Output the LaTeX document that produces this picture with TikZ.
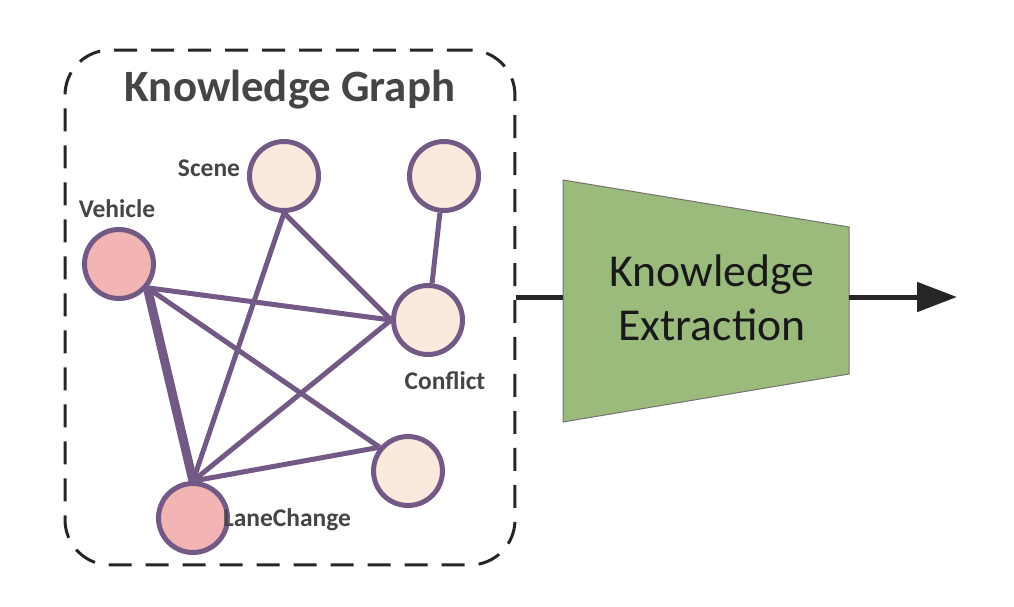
\documentclass[tikz,border=0pt]{standalone}
\usepackage{fontspec}
\setmainfont{Carlito}
\usetikzlibrary{arrows.meta,positioning}

\definecolor{kgpurple}{HTML}{735A86}
\definecolor{kgpeach}{HTML}{FCE9DD}
\definecolor{kgpink}{HTML}{F3B4B4}
\definecolor{kggreen}{HTML}{9BBB7C}
\definecolor{kgtext}{HTML}{454545}

\tikzset{
    ent/.style={circle, draw=kgpurple, line width=0.1cm, fill=kgpeach,
        minimum size=1.38cm, inner sep=0pt},
    rel/.style={draw=kgpurple, line width=0.1cm},
    lbl/.style={font=\fontsize{14.5}{16}\selectfont\bfseries, text=kgtext, inner sep=0pt}
}

\begin{document}
\begin{tikzpicture}[x=0.02cm, y=-0.02cm]
    \useasboundingbox (0,0) rectangle (1014,606);
    % knowledge graph box
    \node[draw=black!85, dashed, dash pattern=on 0.46cm off 0.28cm, line width=0.06cm,
        rounded corners=0.9cm, minimum width=9cm, minimum height=10.3cm] (kg) at (290,307.5) {};
    \node[font=\fontsize{25.5}{30}\selectfont\bfseries, text=kgtext] (title) at (290,90) {Knowledge Graph};

    % entities
    \node[ent] (scene) at (284,176) {};
    \node[ent] (top) at (444,176) {};
    \node[ent, fill=kgpink] (veh) at (119,264) {};
    \node[ent] (conf) at (428,320) {};
    \node[ent] (low) at (408,471) {};
    \node[ent, fill=kgpink] (lc) at (193,518) {};

    % relations
    \draw[rel] (veh.-40) -- (conf.west);
    \draw[rel] (veh.-40) -- (low.140);
    \draw[rel, line width=0.18cm] (veh.-40) -- (lc.north);
    \draw[rel] (scene.south) -- (lc.north);
    \draw[rel] (scene.south) -- (conf.west);
    \draw[rel] (top) -- (conf);
    \draw[rel] (lc.north) -- (conf.west);
    \draw[rel] (lc.north) -- (low.140);

    % labels
    \node[lbl] (scenelbl) at (209,168) {Scene};
    \node[lbl] (vehlbl) at (117,209) {Vehicle};
    \node[lbl] (conflbl) at (445,381) {Conflict};
    \node[lbl] (lclbl) at (287,520) {LaneChange};

    % knowledge extraction
    \draw[fill=kggreen, draw=black!55, line width=0.02cm]
        (563,180) -- (849,227) -- (849,374) -- (563,422) -- cycle;
    \node[font=\fontsize{26}{31}\selectfont, align=center, text=black!90] (ke) at (712,298) {Knowledge\\Extraction};
    \coordinate (kein) at (563,297);
    \coordinate (keout) at (849,297);
    \coordinate (res) at (957,297);
    \draw[line width=0.1cm, black!85] (kg.east |- kein) -- (kein);
    \draw[line width=0.1cm, black!85, -{Triangle[length=0.8cm, width=0.58cm]}] (keout) -- (res);
\end{tikzpicture}
\end{document}
